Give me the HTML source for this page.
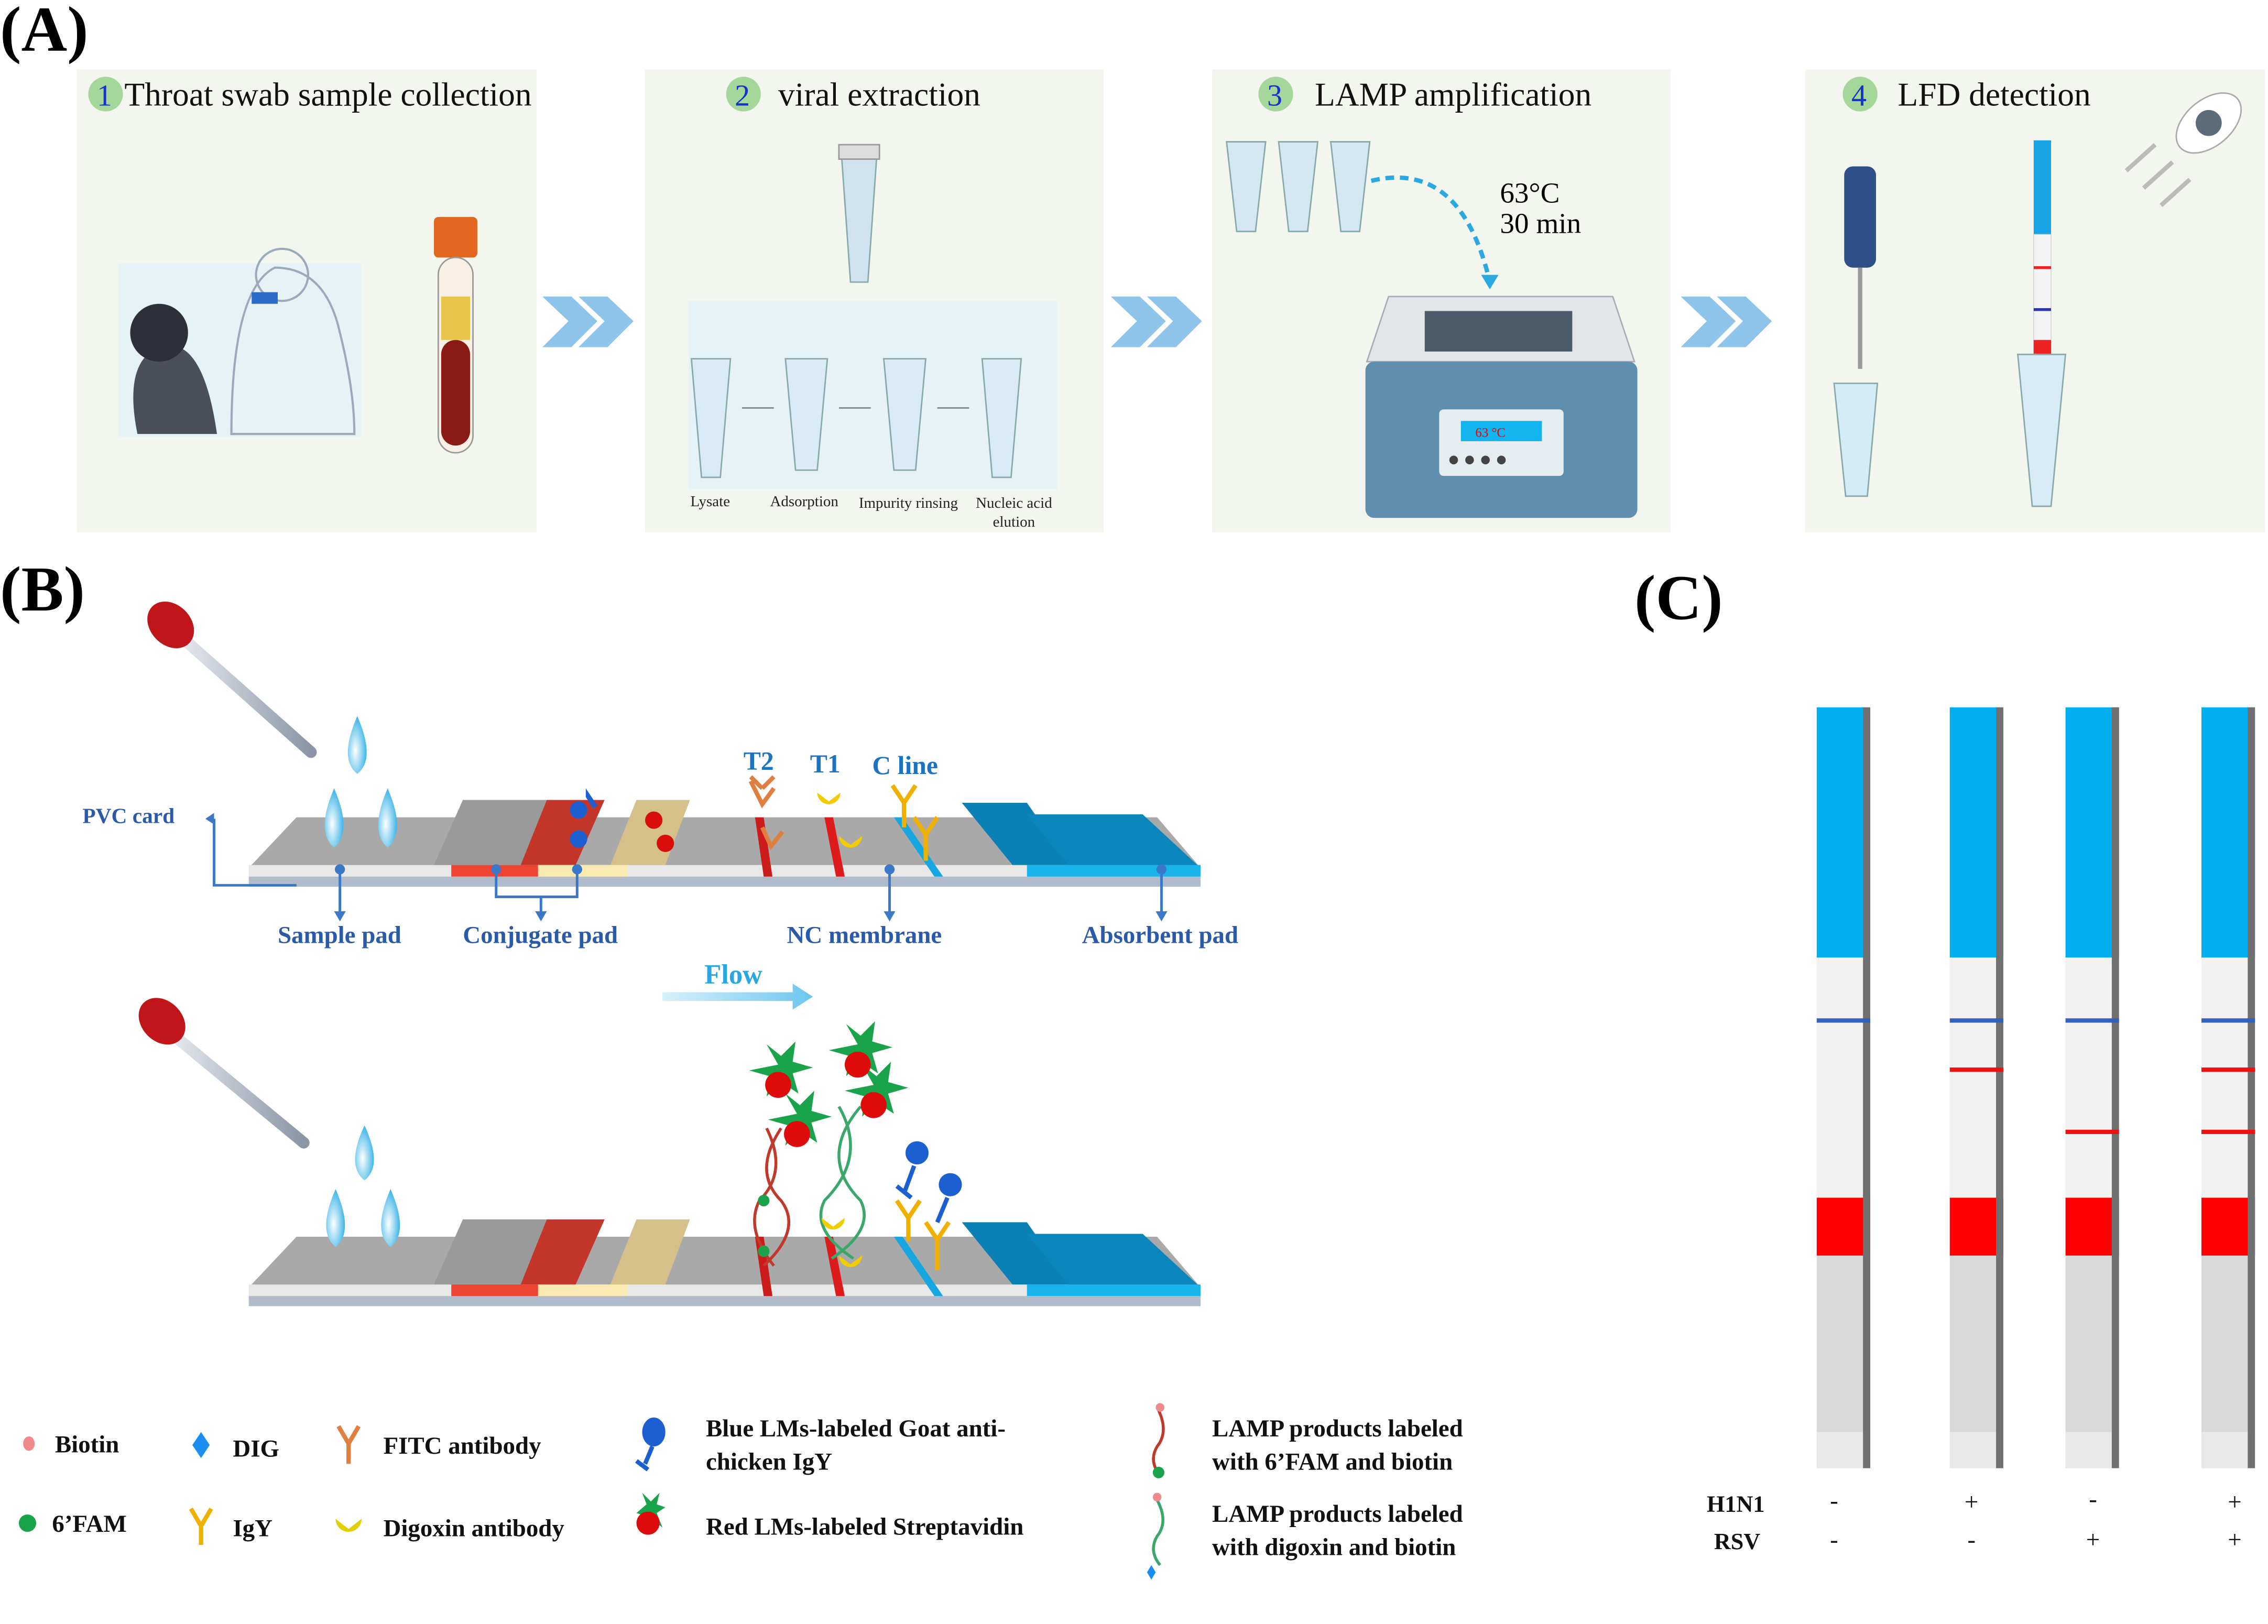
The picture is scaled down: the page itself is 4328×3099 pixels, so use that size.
<!DOCTYPE html>
<html><head><meta charset="utf-8"><style>
html,body{margin:0;padding:0;background:#fff;}
svg{display:block;}
text{font-family:"Liberation Serif",serif;}
</style></head><body>
<svg width="4328" height="3099" viewBox="0 0 1568 1122.7" xmlns="http://www.w3.org/2000/svg">
<defs>
<linearGradient id="fl" x1="0" x2="1"><stop offset="0" stop-color="#d8f0fb"/><stop offset="1" stop-color="#6cc6ee"/></linearGradient>
<radialGradient id="drop" cx="0.4" cy="0.6" r="0.6"><stop offset="0" stop-color="#ffffff"/><stop offset="1" stop-color="#3bb4e8"/></radialGradient>
<linearGradient id="pip" x1="0" x2="1"><stop offset="0" stop-color="#e6e9ee"/><stop offset="1" stop-color="#8b95a5"/></linearGradient>
</defs>
<!-- (A) -->
<text x="0" y="35" font-size="44" font-weight="bold">(A)</text>
<g fill="#f3f6ee">
<rect x="53" y="48" width="318" height="320"/>
<rect x="446" y="48" width="317" height="320"/>
<rect x="838" y="48" width="317" height="320"/>
<rect x="1248" y="48" width="318" height="320"/>
</g>
<g font-size="23" fill="#111">
<circle cx="73" cy="65" r="12" fill="#a6d79a"/><text x="67" y="73" fill="#1433c8" font-size="21">1</text><text x="86" y="73">Throat swab sample collection</text>
<circle cx="514" cy="65" r="12" fill="#a6d79a"/><text x="508" y="73" fill="#1433c8" font-size="21">2</text><text x="538" y="73">viral extraction</text>
<circle cx="882" cy="65" r="12" fill="#a6d79a"/><text x="876" y="73" fill="#1433c8" font-size="21">3</text><text x="909" y="73">LAMP amplification</text>
<circle cx="1286" cy="65" r="12" fill="#a6d79a"/><text x="1280" y="73" fill="#1433c8" font-size="21">4</text><text x="1312" y="73">LFD detection</text>
</g>
<!-- chevrons -->
<g fill="#8fc4ea">
<path d="M375 205 L395 205 L413 222 L395 240 L375 240 L393 222Z"/><path d="M400 205 L420 205 L438 222 L420 240 L400 240 L418 222Z"/>
<path d="M768 205 L788 205 L806 222 L788 240 L768 240 L786 222Z"/><path d="M793 205 L813 205 L831 222 L813 240 L793 240 L811 222Z"/>
<path d="M1162 205 L1182 205 L1200 222 L1182 240 L1162 240 L1180 222Z"/><path d="M1187 205 L1207 205 L1225 222 L1207 240 L1187 240 L1205 222Z"/>
</g>
<!-- panel1 -->
<rect x="82" y="182" width="168" height="120" fill="#e6f3f6"/>
<path d="M95 300 Q85 250 110 240 Q140 230 150 300Z" fill="#4a4f5a"/>
<circle cx="110" cy="230" r="20" fill="#2e2f38"/>
<path d="M160 300 Q160 200 190 185 Q225 185 235 230 Q245 270 245 300Z" fill="none" stroke="#9ab" stroke-width="1.5"/>
<circle cx="195" cy="190" r="18" fill="none" stroke="#9ab" stroke-width="1.5"/>
<rect x="174" y="202" width="18" height="8" fill="#2a6ac8"/>
<rect x="300" y="150" width="30" height="28" rx="3" fill="#e2661e"/>
<rect x="303" y="178" width="24" height="135" rx="12" fill="#f8f0e4" stroke="#999"/>
<rect x="305" y="205" width="20" height="30" fill="#e8c54a"/>
<rect x="305" y="235" width="20" height="73" rx="10" fill="#8c1a14"/>
<!-- panel2 -->
<path d="M582 110 L606 110 L600 195 L588 195Z" fill="#cfe3ef" stroke="#8aa" />
<rect x="580" y="100" width="28" height="10" fill="#ddd" stroke="#999"/>
<rect x="476" y="208" width="255" height="130" fill="#e6f3f6"/>
<g fill="#d9ebf4" stroke="#8aa">
<path d="M478 248 L505 248 L498 330 L485 330Z"/>
<path d="M543 248 L572 248 L565 325 L550 325Z"/>
<path d="M611 248 L640 248 L633 325 L618 325Z"/>
<path d="M679 248 L706 248 L699 330 L686 330Z"/>
</g>
<g font-size="10.5" fill="#222" text-anchor="middle">
<text x="491" y="350">Lysate</text><text x="556" y="350">Adsorption</text><text x="628" y="351">Impurity rinsing</text><text x="701" y="351">Nucleic acid</text><text x="701" y="364">elution</text>
</g>
<g stroke="#888" stroke-width="1"><line x1="513" y1="282" x2="535" y2="282"/><line x1="580" y1="282" x2="602" y2="282"/><line x1="648" y1="282" x2="670" y2="282"/></g>
<!-- panel3 -->
<g fill="#d4e8f2" stroke="#8aa">
<path d="M848 98 L875 98 L868 160 L855 160Z"/><path d="M884 98 L911 98 L904 160 L891 160Z"/><path d="M920 98 L947 98 L940 160 L927 160Z"/>
</g>
<path d="M948 125 Q1010 110 1030 195" fill="none" stroke="#2aa9e0" stroke-width="3" stroke-dasharray="6 4"/>
<path d="M1024 190 L1036 190 L1030 200Z" fill="#2aa9e0"/>
<text x="1037" y="140" font-size="20">63°C</text><text x="1037" y="161" font-size="20">30 min</text>
<path d="M960 205 L1115 205 L1130 250 L945 250Z" fill="#e2e6e8" stroke="#aab"/>
<rect x="985" y="215" width="102" height="28" fill="#4b5a68"/>
<rect x="944" y="250" width="188" height="108" rx="6" fill="#5f8fae"/>
<rect x="995" y="283" width="86" height="46" rx="3" fill="#e6edf1"/>
<rect x="1010" y="291" width="56" height="14" fill="#12b4f0"/><text x="1020" y="302" font-size="9" fill="#e00">63 °C</text>
<g fill="#444"><circle cx="1005" cy="318" r="3"/><circle cx="1016" cy="318" r="3"/><circle cx="1027" cy="318" r="3"/><circle cx="1038" cy="318" r="3"/></g>
<!-- panel4 -->
<rect x="1275" y="115" width="22" height="70" rx="6" fill="#2e4f88"/>
<line x1="1286" y1="185" x2="1286" y2="255" stroke="#999" stroke-width="3"/>
<path d="M1268 265 L1298 265 L1291 343 L1276 343Z" fill="#d4ecf6" stroke="#8aa"/>
<rect x="1406" y="97" width="12" height="65" fill="#1aa4e8"/>
<rect x="1406" y="162" width="12" height="85" fill="#f4f4f4" stroke="#ccc" stroke-width="0.5"/>
<rect x="1406" y="184" width="12" height="2" fill="#e22"/><rect x="1406" y="213" width="12" height="2" fill="#33a"/>
<rect x="1406" y="235" width="12" height="12" fill="#e22"/>
<path d="M1395 245 L1428 245 L1418 350 L1405 350Z" fill="#d8ecf5" stroke="#8aa"/>
<ellipse cx="1527" cy="85" rx="26" ry="16" fill="#fff" stroke="#aaa" transform="rotate(-40 1527 85)"/>
<circle cx="1527" cy="85" r="9" fill="#5a6b7a"/>
<g stroke="#bbb" stroke-width="3"><line x1="1470" y1="118" x2="1490" y2="100"/><line x1="1482" y1="130" x2="1502" y2="112"/><line x1="1494" y1="142" x2="1514" y2="124"/></g>

<!-- (B) -->
<text x="0" y="422" font-size="44" font-weight="bold">(B)</text>
<!-- pipettes -->
<g>
<line x1="125" y1="440" x2="215" y2="520" stroke="url(#pip)" stroke-width="8" stroke-linecap="round"/>
<ellipse cx="118" cy="432" rx="14" ry="18" fill="#c0161a" transform="rotate(-45 118 432)"/>
<line x1="118" y1="714" x2="210" y2="790" stroke="url(#pip)" stroke-width="8" stroke-linecap="round"/>
<ellipse cx="112" cy="706" rx="14" ry="18" fill="#c0161a" transform="rotate(-45 112 706)"/>
</g>
<!-- strip template -->
<g id="strip">
<rect x="172" y="605" width="658" height="8" fill="#b0bccc"/>
<path d="M205 565 L800 565 L830 600 L172 600Z" fill="#a9a9a9"/>
<rect x="172" y="598" width="658" height="8" fill="#e8e8e8"/>
<path d="M320 553 L378 553 L360 598 L300 598Z" fill="#9a9a9a"/>
<path d="M378 553 L418 553 L398 598 L360 598Z" fill="#c4352a"/>
<rect x="312" y="598" width="60" height="8" fill="#ee4433"/>
<path d="M440 553 L477 553 L460 598 L422 598Z" fill="#d6c08a"/>
<rect x="372" y="598" width="62" height="8" fill="#f8eab0"/>
<path d="M665 555 L710 555 L740 598 L700 598Z" fill="#0a80b4"/>
<path d="M710 563 L790 563 L830 600 L740 600Z" fill="#0b86bc"/>
<rect x="710" y="598" width="120" height="8" fill="#19b4ec"/>
<path d="M522 565 L528 565 L534 606 L528 606Z" fill="#cc1b1b"/>
<path d="M570 565 L576 565 L584 606 L578 606Z" fill="#dd1b1b"/>
<path d="M618 565 L624 565 L652 606 L646 606Z" fill="#18a6e0"/>
</g>
<use href="#strip" transform="translate(0,290)"/>
<!-- drops -->
<g fill="url(#drop)">
<path d="M247 495 Q260 525 247 535 Q234 525 247 495Z"/>
<path d="M231 545 Q244 575 231 586 Q218 575 231 545Z"/>
<path d="M268 545 Q281 575 268 586 Q255 575 268 545Z"/>
<path d="M252 778 Q265 806 252 816 Q239 806 252 778Z"/>
<path d="M232 822 Q245 852 232 862 Q219 852 232 822Z"/>
<path d="M270 822 Q283 852 270 862 Q257 852 270 822Z"/>
</g>
<!-- upper strip particles -->
<g fill="#1b5fd0"><circle cx="400" cy="560" r="6"/><circle cx="400" cy="580" r="6"/><path d="M405 545 l8 12 l-3 2 l-5 -8z"/></g>
<g fill="#d90c0c"><circle cx="452" cy="567" r="6"/><circle cx="460" cy="583" r="6"/></g>
<g fill="#d46a2a"><path d="M527 545 l-8 -8 M527 545 l8 -8" stroke="#e08040" stroke-width="3"/></g>
<g stroke="#e08040" stroke-width="3" fill="none"><path d="M519 540 L527 556 L535 545"/><path d="M527 572 L533 585 L541 575"/></g>
<g fill="#f0cc00"><path d="M565 548 a8 8 0 0 0 16 0 l-8 6z"/><path d="M580 578 a8 8 0 0 0 16 0 l-8 6z"/></g>
<g stroke="#f0b000" stroke-width="3" fill="none"><path d="M617 543 L625 555 L633 543 M625 555 L625 572"/><path d="M632 565 L640 577 L648 565 M640 577 L640 595"/></g>
<g font-size="18" font-weight="bold" fill="#1d73c0"><text x="514" y="532">T2</text><text x="560" y="534">T1</text><text x="603" y="535">C line</text></g>
<!-- annotations -->
<g stroke="#3b78c8" stroke-width="1.8" fill="none">
<path d="M148 566 L148 612 L205 612"/>
<line x1="235" y1="601" x2="235" y2="632"/>
<path d="M343 601 L343 620 L399 620 L399 601 M374 620 L374 632"/>
<line x1="615" y1="601" x2="615" y2="632"/>
<line x1="803" y1="601" x2="803" y2="632"/>
</g>
<g fill="#3b78c8"><circle cx="235" cy="601" r="3.5"/><circle cx="343" cy="601" r="3.5"/><circle cx="399" cy="601" r="3.5"/><circle cx="615" cy="601" r="3.5"/><circle cx="803" cy="601" r="3.5"/>
<path d="M231 630 h8 l-4 7z M370 630 h8 l-4 7z M611 630 h8 l-4 7z M799 630 h8 l-4 7z M142 566 l6 -4 v8z"/></g>
<g font-size="17" font-weight="bold" fill="#2b5ba8">
<text x="57" y="569" font-size="15">PVC card</text>
<text x="192" y="652">Sample pad</text><text x="320" y="652">Conjugate pad</text><text x="544" y="652">NC membrane</text><text x="748" y="652">Absorbent pad</text>
</g>
<path d="M458 686 L548 686 L548 680 L562 689 L548 698 L548 692 L458 692Z" fill="url(#fl)"/>
<text x="487" y="680" font-size="19" font-weight="bold" fill="#2aa7e0">Flow</text>
<!-- lower strip complexes -->
<g stroke="#c0392b" stroke-width="2" fill="none"><path d="M530 780 Q545 810 525 830 Q515 850 535 875"/><path d="M540 780 Q520 810 540 830 Q555 850 528 875"/></g>
<g stroke="#3aa86b" stroke-width="2" fill="none"><path d="M580 765 Q600 800 570 830 Q560 850 590 870"/><path d="M595 765 Q565 800 595 830 Q605 850 575 870"/></g>
<g fill="#19a34a"><path d="M538 736 l-8 -14 l10 8 l10 -10 l-2 14 l14 4 l-14 4 l4 14 l-12 -8 l-10 10 l2 -14 l-14 -4z"/><path d="M593 722 l-8 -14 l10 8 l10 -10 l-2 14 l14 4 l-14 4 l4 14 l-12 -8 l-10 10 l2 -14 l-14 -4z"/><path d="M551 770 l-8 -14 l10 8 l10 -10 l-2 14 l14 4 l-14 4 l4 14 l-12 -8 l-10 10 l2 -14 l-14 -4z"/><path d="M604 750 l-8 -14 l10 8 l10 -10 l-2 14 l14 4 l-14 4 l4 14 l-12 -8 l-10 10 l2 -14 l-14 -4z"/></g>
<g fill="#dd0b0b"><circle cx="538" cy="750" r="9"/><circle cx="593" cy="736" r="9"/><circle cx="551" cy="784" r="9"/><circle cx="604" cy="764" r="9"/></g>
<g fill="#1b5fd0"><circle cx="634" cy="797" r="8"/><circle cx="657" cy="819" r="8"/></g>
<g stroke="#1b5fd0" stroke-width="3" fill="none"><path d="M632 806 L625 825 M620 820 L630 828"/><path d="M655 828 L648 845"/></g>
<g stroke="#f0b000" stroke-width="3" fill="none"><path d="M620 830 L628 842 L636 830 M628 842 L628 858"/><path d="M640 845 L648 857 L656 845 M648 857 L648 878"/></g>
<g fill="#f0cc00"><path d="M568 842 a8 8 0 0 0 16 0 l-8 6z"/><path d="M580 868 a8 8 0 0 0 16 0 l-8 6z"/></g>
<circle cx="528" cy="830" r="4" fill="#19a34a"/><circle cx="528" cy="865" r="4" fill="#19a34a"/>

<!-- legend -->
<g font-size="17" font-weight="bold" fill="#111">
<ellipse cx="20" cy="998" rx="4" ry="5" fill="#f08a8a"/><text x="38" y="1004">Biotin</text>
<circle cx="19" cy="1053" r="6" fill="#19a34a"/><text x="36" y="1059">6’FAM</text>
<path d="M139 990 l6 9 l-6 9 l-6 -9z" fill="#1a8ff0"/><text x="161" y="1007">DIG</text>
<path d="M132 1043 L139 1055 L146 1043 M139 1055 V1068" stroke="#f0b000" stroke-width="3" fill="none"/><text x="161" y="1062">IgY</text>
<path d="M234 986 L241 998 L248 986 M241 998 V1012" stroke="#e08040" stroke-width="3" fill="none"/><text x="265" y="1005">FITC antibody</text>
<path d="M232 1050 a9 9 0 0 0 18 0 l-9 7z" fill="#e0d000"/><text x="265" y="1062">Digoxin antibody</text>
<ellipse cx="452" cy="990" rx="8" ry="10" fill="#1b5fd0"/><path d="M451 1000 L446 1012 M440 1010 L448 1016" stroke="#1b5fd0" stroke-width="3"/>
<text x="488" y="993">Blue LMs-labeled Goat anti-</text><text x="488" y="1016">chicken IgY</text>
<path d="M447 1040 l-3 -8 l6 6 l6 -6 l-2 8 l6 2 l-6 4 l4 10 l-8 -6 l-4 8 l0 -10 l-6 -2z" fill="#19a34a"/><circle cx="448" cy="1053" r="8" fill="#dd0b0b"/>
<text x="488" y="1061">Red LMs-labeled Streptavidin</text>
<path d="M801 975 Q808 990 800 1000 Q794 1010 802 1020" stroke="#c0392b" stroke-width="2" fill="none"/><circle cx="801" cy="1018" r="4" fill="#19a34a"/><circle cx="802" cy="973" r="3" fill="#f08a8a"/>
<text x="838" y="993">LAMP  products  labeled</text><text x="838" y="1016">with 6’FAM and biotin</text>
<path d="M800 1037 Q808 1052 800 1062 Q794 1072 802 1082" stroke="#3aa86b" stroke-width="2" fill="none"/><path d="M796 1082 l3 5 l-3 5 l-3 -5z" fill="#1a8ff0"/><circle cx="800" cy="1035" r="3" fill="#f08a8a"/>
<text x="838" y="1052">LAMP  products  labeled</text><text x="838" y="1075">with digoxin and biotin</text>
</g>

<!-- (C) -->
<text x="1130" y="428" font-size="44" font-weight="bold">(C)</text>
<g id="cs">
<rect x="1256" y="489" width="37" height="526" fill="#d9d9d9"/>
<rect x="1256" y="489" width="37" height="173" fill="#00aeef"/>
<rect x="1256" y="662" width="37" height="166" fill="#f1f1f1"/>
<rect x="1256" y="828" width="37" height="40" fill="#ff0000"/>
<rect x="1256" y="990" width="37" height="25" fill="#e8e8e8"/>
<rect x="1288" y="489" width="5" height="526" fill="#707070"/>
<rect x="1256" y="704" width="37" height="3" fill="#3462b8"/>
</g>
<use href="#cs" transform="translate(92,0)"/>
<use href="#cs" transform="translate(172,0)"/>
<use href="#cs" transform="translate(266,0)"/>
<g fill="#ee1111"><rect x="1348" y="738" width="37" height="3"/><rect x="1428" y="781" width="37" height="3"/><rect x="1522" y="738" width="37" height="3"/><rect x="1522" y="781" width="37" height="3"/></g>
<g font-size="16" font-weight="bold" fill="#111">
<text x="1180" y="1045">H1N1</text><text x="1185" y="1071">RSV</text>
</g>
<g font-size="17" fill="#111" text-anchor="middle">
<text x="1268" y="1043">-</text><text x="1363" y="1044">+</text><text x="1447" y="1042">-</text><text x="1545" y="1044">+</text>
<text x="1268" y="1070">-</text><text x="1363" y="1070">-</text><text x="1447" y="1070">+</text><text x="1545" y="1070">+</text>
</g>
</svg>
</body></html>
